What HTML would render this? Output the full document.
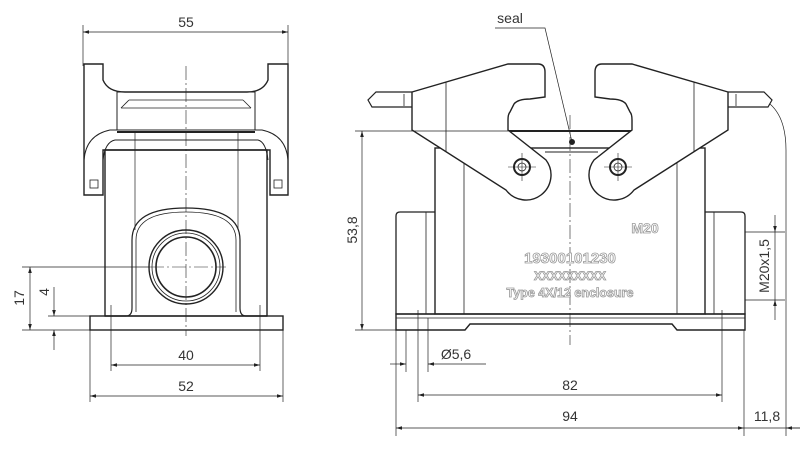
<!DOCTYPE html>
<html><head><meta charset="utf-8"><style>
html,body{margin:0;padding:0;background:#fff;}
svg{display:block;}
text{font-family:"Liberation Sans",sans-serif;fill:#333;font-size:14px;}
.g{fill:#fff;stroke:#999;stroke-width:0.8;font-weight:bold;font-size:14px;}
</style></head><body>
<svg width="800" height="449" viewBox="0 0 800 449" xmlns="http://www.w3.org/2000/svg">
<defs>
<marker id="a" viewBox="0 0 10 10" refX="10" refY="5" markerWidth="10" markerHeight="6" orient="auto-start-reverse" markerUnits="userSpaceOnUse"><path d="M0,2 L10,5 L0,8 z" fill="#222"/></marker>
</defs>
<g fill="none" stroke="#222" stroke-width="1">
<line x1="83" y1="25" x2="83" y2="66" stroke-width="0.7"/>
<line x1="288" y1="25" x2="288" y2="66" stroke-width="0.7"/>
<line x1="83" y1="32" x2="288" y2="32" stroke-width="0.7" marker-start="url(#a)" marker-end="url(#a)"/>
<path d="M84,64 H103 V80 Q108,92 125,92 H247 Q263,92 268,80 V64 H288 V195 H270 V150 H103 V195 H84 Z" stroke-width="1.4"/>
<rect x="117" y="92" width="138" height="38" stroke-width="1"/>
<path d="M121,108 H251 M129,100 H243 M121,108 L129,100 M251,108 L243,100" stroke-width="0.8"/>
<path d="M84,160 Q86,135 110,130 H262 Q286,135 288,160" stroke-width="1"/>
<path d="M103,160 Q105,142 115,140 H258 Q266,142 268,160" stroke-width="1"/>
<line x1="117" y1="132" x2="255" y2="132" stroke-width="2"/>
<rect x="90" y="180" width="8" height="8" stroke-width="0.8"/>
<rect x="274" y="180" width="8" height="8" stroke-width="0.8"/>
<rect x="105" y="150" width="162" height="166" stroke-width="1.4"/>
<line x1="135" y1="132" x2="135" y2="230" stroke-width="0.7"/>
<line x1="238" y1="132" x2="238" y2="230" stroke-width="0.7"/>
<path d="M105,316 H126 Q132,316 132,308 V240 Q132,208 186,208 Q240,208 240,240 V308 Q240,316 246,316 H267" stroke-width="1.2"/>
<path d="M136,312 V240 Q136,212 186,212 Q236,212 236,240 V312" stroke-width="0.8"/>
<rect x="90" y="316" width="193" height="14" stroke-width="1.4"/>
<circle cx="186" cy="267" r="37" stroke-width="1.4"/>
<circle cx="186" cy="267" r="34" stroke-width="0.8"/>
<circle cx="186" cy="267" r="30" stroke-width="1.6"/>
<line x1="186" y1="66" x2="186" y2="336" stroke-width="0.6" stroke-dasharray="14,3,2,3"/>
<line x1="150" y1="267" x2="226" y2="267" stroke-width="0.6" stroke-dasharray="14,3,2,3"/>
<line x1="22" y1="267" x2="150" y2="267" stroke-width="0.7"/>
<line x1="22" y1="330" x2="90" y2="330" stroke-width="0.7"/>
<line x1="48" y1="316" x2="110" y2="316" stroke-width="0.7"/>
<line x1="30" y1="267" x2="30" y2="330" stroke-width="0.7" marker-start="url(#a)" marker-end="url(#a)"/>
<line x1="54" y1="287" x2="54" y2="316" stroke-width="0.7" marker-end="url(#a)"/>
<line x1="54" y1="350" x2="54" y2="330" stroke-width="0.7" marker-end="url(#a)"/>
<line x1="111" y1="305" x2="111" y2="371" stroke-width="0.7"/>
<line x1="260" y1="305" x2="260" y2="371" stroke-width="0.7"/>
<line x1="111" y1="365" x2="260" y2="365" stroke-width="0.7" marker-start="url(#a)" marker-end="url(#a)"/>
<line x1="90" y1="330" x2="90" y2="402" stroke-width="0.7"/>
<line x1="283" y1="330" x2="283" y2="402" stroke-width="0.7"/>
<line x1="90" y1="396" x2="283" y2="396" stroke-width="0.7" marker-start="url(#a)" marker-end="url(#a)"/>

<polyline points="495,28 545,28 572,142" stroke-width="0.7"/>
<circle cx="572" cy="142" r="2.5" fill="#222"/>
<rect x="435" y="148" width="270" height="166" stroke-width="1.4"/>
<line x1="464" y1="160" x2="464" y2="314" stroke-width="0.8"/>
<line x1="677" y1="160" x2="677" y2="314" stroke-width="0.8"/>
<path d="M435,212 H400 Q396,212 396,216 V314 H435" stroke-width="1.3"/>
<line x1="426" y1="212" x2="426" y2="314" stroke-width="0.8"/>
<path d="M705,212 H741 Q745,212 745,216 V314 H705" stroke-width="1.3"/>
<line x1="714" y1="212" x2="714" y2="314" stroke-width="0.8"/>
<path d="M396,314 H745 V330 H677 L672,324 H470 L465,330 H396 Z" stroke-width="1.4"/>
<line x1="396" y1="318" x2="745" y2="318" stroke-width="0.8"/>
<line x1="508" y1="131" x2="632" y2="131" stroke-width="2"/>
<line x1="545" y1="152" x2="598" y2="152" stroke-width="1"/>
<path d="M412,92 L508,64 H538 Q545,64 545,72 V97 L530,99 Q518,99 514,104 L510,112 Q508,114 508,120 V130 L546,160 A24,24 0 0 1 506,190 L412,130 Z" fill="#fff" stroke-width="1.4"/>
<path d="M412,92 H376 L368,100 L372,107 H412" stroke-width="1.2"/>
<line x1="404" y1="94" x2="404" y2="106" stroke-width="0.8"/>
<line x1="446" y1="82" x2="446" y2="152" stroke-width="0.8"/>
<circle cx="522" cy="167" r="8" stroke-width="2"/>
<circle cx="522" cy="167" r="4" stroke-width="0.8"/>
<path d="M508,167 H536 M522,153 V181" stroke-width="0.6"/>
<g transform="translate(1140,0) scale(-1,1)">
<path d="M412,92 L508,64 H538 Q545,64 545,72 V97 L530,99 Q518,99 514,104 L510,112 Q508,114 508,120 V130 L546,160 A24,24 0 0 1 506,190 L412,130 Z" fill="#fff" stroke-width="1.4"/>
<path d="M412,92 H376 L368,100 L372,107 H412" stroke-width="1.2"/>
<line x1="404" y1="94" x2="404" y2="106" stroke-width="0.8"/>
<line x1="446" y1="82" x2="446" y2="152" stroke-width="0.8"/>
<circle cx="522" cy="167" r="8" stroke-width="2"/>
<circle cx="522" cy="167" r="4" stroke-width="0.8"/>
<path d="M508,167 H536 M522,153 V181" stroke-width="0.6"/>
</g>
<line x1="570" y1="115" x2="570" y2="345" stroke-width="0.6" stroke-dasharray="14,3,2,3"/>
<line x1="355" y1="131" x2="515" y2="131" stroke-width="0.7"/>
<line x1="355" y1="330" x2="400" y2="330" stroke-width="0.7"/>
<line x1="362" y1="131" x2="362" y2="330" stroke-width="0.7" marker-start="url(#a)" marker-end="url(#a)"/>
<line x1="745" y1="232" x2="785" y2="232" stroke-width="0.7"/>
<line x1="745" y1="300" x2="785" y2="300" stroke-width="0.7"/>
<line x1="775" y1="215" x2="775" y2="232" stroke-width="0.7" marker-end="url(#a)"/>
<line x1="775" y1="320" x2="775" y2="300" stroke-width="0.7" marker-end="url(#a)"/>
<line x1="775" y1="232" x2="775" y2="300" stroke-width="0.7"/>
<path d="M770,104 Q786,118 786,150 V436" stroke-width="0.7"/>
<line x1="406" y1="330" x2="406" y2="372" stroke-width="0.7"/>
<line x1="428" y1="318" x2="428" y2="372" stroke-width="0.7"/>
<line x1="390" y1="364" x2="406" y2="364" stroke-width="0.7" marker-end="url(#a)"/>
<line x1="486" y1="364" x2="428" y2="364" stroke-width="0.7" marker-end="url(#a)"/>
<line x1="418" y1="310" x2="418" y2="402" stroke-width="0.7"/>
<line x1="722" y1="310" x2="722" y2="402" stroke-width="0.7"/>
<line x1="418" y1="395" x2="722" y2="395" stroke-width="0.7" marker-start="url(#a)" marker-end="url(#a)"/>
<line x1="396" y1="330" x2="396" y2="436" stroke-width="0.7"/>
<line x1="744" y1="330" x2="744" y2="436" stroke-width="0.7"/>
<line x1="396" y1="428" x2="744" y2="428" stroke-width="0.7" marker-start="url(#a)" marker-end="url(#a)"/>
<line x1="744" y1="428" x2="800" y2="428" stroke-width="0.7"/>
<line x1="800" y1="428" x2="786" y2="428" stroke-width="0.7" marker-end="url(#a)"/>
</g>
<text x="186" y="27" text-anchor="middle">55</text>
<text x="186" y="360" text-anchor="middle">40</text>
<text x="186" y="391" text-anchor="middle">52</text>
<text transform="translate(24,298) rotate(-90)" text-anchor="middle">17</text>
<text transform="translate(49,292) rotate(-90)" text-anchor="middle">4</text>
<text x="510" y="23" text-anchor="middle">seal</text>
<text transform="translate(357,230) rotate(-90)" text-anchor="middle">53,8</text>
<text transform="translate(769,266) rotate(-90)" text-anchor="middle">M20x1,5</text>
<text x="456" y="359" text-anchor="middle">Ø5,6</text>
<text x="570" y="390" text-anchor="middle">82</text>
<text x="570" y="421" text-anchor="middle">94</text>
<text x="767" y="421" text-anchor="middle">11,8</text>
<text class="g" x="645" y="233" text-anchor="middle">M20</text>
<text class="g" x="570" y="263" text-anchor="middle" style="font-size:15px">19300101230</text>
<text class="g" x="570" y="280" text-anchor="middle" style="font-size:12px">XXXXXXXXX</text>
<text class="g" x="570" y="297" text-anchor="middle" style="font-size:12.5px">Type 4X/12 enclosure</text>
</svg>
</body></html>
